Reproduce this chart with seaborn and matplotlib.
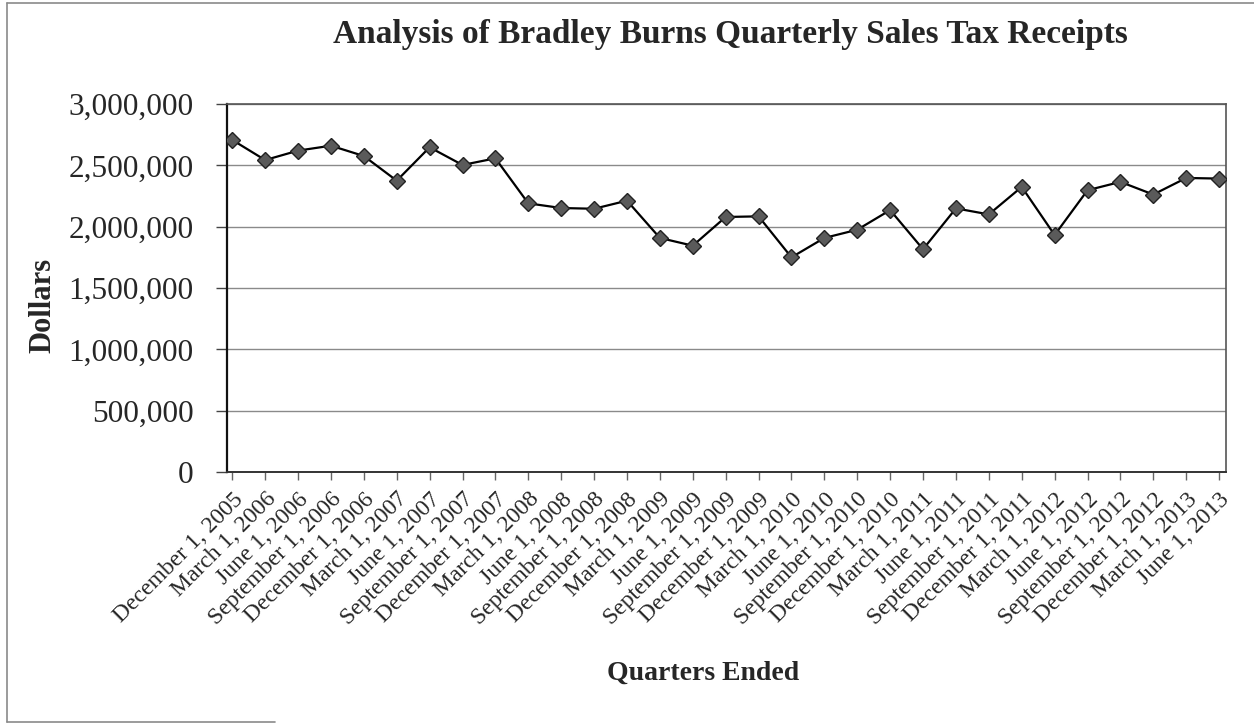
import matplotlib
matplotlib.use("Agg")
import matplotlib.pyplot as plt
from matplotlib.lines import Line2D
from matplotlib.ticker import FuncFormatter
import seaborn as sns
import pandas as pd

quarters = [
    "December 1, 2005", "March 1, 2006", "June 1, 2006", "September 1, 2006",
    "December 1, 2006", "March 1, 2007", "June 1, 2007", "September 1, 2007",
    "December 1, 2007", "March 1, 2008", "June 1, 2008", "September 1, 2008",
    "December 1, 2008", "March 1, 2009", "June 1, 2009", "September 1, 2009",
    "December 1, 2009", "March 1, 2010", "June 1, 2010", "September 1, 2010",
    "December 1, 2010", "March 1, 2011", "June 1, 2011", "September 1, 2011",
    "December 1, 2011", "March 1, 2012", "June 1, 2012", "September 1, 2012",
    "December 1, 2012", "March 1, 2013", "June 1, 2013",
]
receipts = [
    2707000, 2543000, 2620000, 2660000, 2576000, 2375000, 2647000, 2503000,
    2557000, 2190000, 2152000, 2146000, 2212000, 1908000, 1845000, 2079000,
    2084000, 1750000, 1908000, 1975000, 2135000, 1816000, 2149000, 2100000,
    2324000, 1932000, 2297000, 2365000, 2262000, 2397000, 2392000,
]
y_ticks = [0, 500000, 1000000, 1500000, 2000000, 2500000, 3000000]

title = "Analysis of Bradley Burns Quarterly Sales Tax Receipts"
x_label = "Quarters Ended"
y_label = "Dollars"

sns.set_theme(style="white")
plt.rcParams["font.family"] = ["Liberation Serif", "DejaVu Serif"]

W, H = 1254, 723
fig = plt.figure(figsize=(W / 100, H / 100), dpi=100)
fig.patch.set_facecolor("white")

ax = fig.add_axes([227 / W, 1 - 472 / H, (1226 - 227) / W, (472 - 104) / H])

df = pd.DataFrame({"pos": range(len(quarters)), "receipts": receipts})
sns.lineplot(
    data=df, x="pos", y="receipts", ax=ax,
    color="black", linewidth=1.6, marker="D", markersize=8.5,
    markerfacecolor="#5a5a5a", markeredgecolor="#222222", markeredgewidth=1.0,
    zorder=3,
)

ax.set_ylim(0, 3000000)
ax.set_xlim(-0.16, len(quarters) - 1 + 0.21)
ax.set_yticks(y_ticks)
ax.yaxis.set_major_formatter(FuncFormatter(lambda v, p: f"{int(v):,}"))
ax.set_xticks(range(len(quarters)))
ax.set_xticklabels(quarters, rotation=45, ha="right", rotation_mode="anchor")

ax.grid(axis="y", color="#8a8a8a", linewidth=1.0)
ax.grid(axis="x", visible=False)
ax.set_axisbelow(True)

for side in ["top", "right"]:
    ax.spines[side].set_color("#555555")
    ax.spines[side].set_linewidth(1.2)
    ax.spines[side].set_visible(True)
ax.spines["left"].set_color("#111111")
ax.spines["left"].set_linewidth(1.6)
ax.spines["bottom"].set_color("#333333")
ax.spines["bottom"].set_linewidth(1.4)

ax.tick_params(axis="y", which="major", direction="out", length=8, width=1,
               color="#444444", labelsize=22.5, pad=16, left=True)
ax.tick_params(axis="x", which="major", direction="out", length=6, width=1,
               color="#666666", labelsize=17, pad=6, bottom=True)

ax.set_xlabel("")
ax.set_ylabel("")

fig.text(730 / W, 1 - 34 / H, title, ha="center", va="center",
         fontsize=24, fontweight="bold")
fig.text(43 / W, 1 - 305 / H, y_label, ha="center", va="center",
         rotation=90, fontsize=22, fontweight="bold")
fig.text(703 / W, 1 - 673 / H, x_label, ha="center", va="center",
         fontsize=20, fontweight="bold")

# outer chart frame
frame_kw = dict(transform=fig.transFigure, color="#8a8a8a", linewidth=1.2)
fig.add_artist(Line2D([7 / W, 1.0], [1 - 3 / H, 1 - 3 / H], **frame_kw))
fig.add_artist(Line2D([7 / W, 7 / W], [1 - 3 / H, 1 - 722 / H], **frame_kw))
fig.add_artist(Line2D([7 / W, 275 / W], [1 - 722 / H, 1 - 722 / H], **frame_kw))

fig.savefig("out.png", dpi=100, facecolor="white")
